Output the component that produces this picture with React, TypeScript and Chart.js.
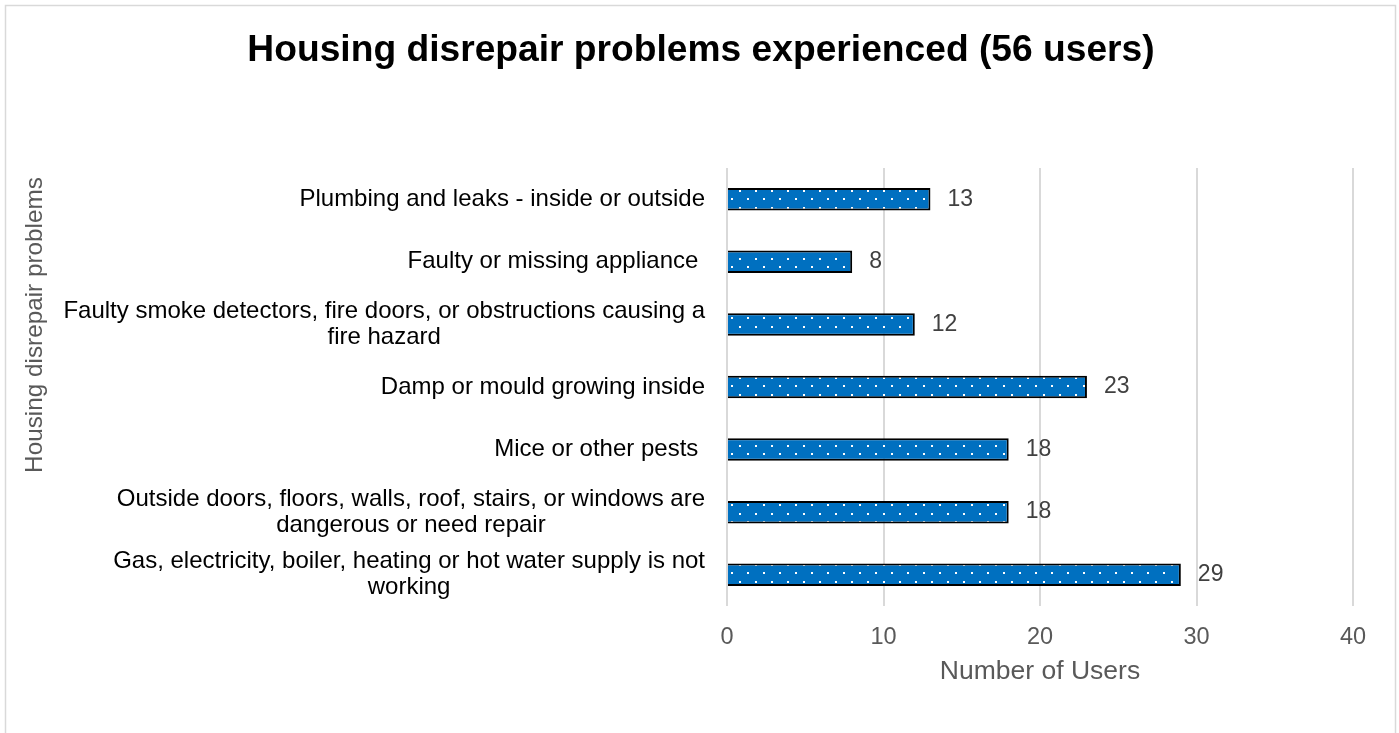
import React, { useEffect, useRef } from 'react';
import { Chart, registerables } from 'chart.js';

Chart.register(...registerables);

const categories: string[][] = [
  ['Plumbing and leaks - inside or outside'],
  ['Faulty or missing appliance '],
  ['Faulty smoke detectors, fire doors, or obstructions causing a', 'fire hazard'],
  ['Damp or mould growing inside'],
  ['Mice or other pests '],
  ['Outside doors, floors, walls, roof, stairs, or windows are', 'dangerous or need repair'],
  ['Gas, electricity, boiler, heating or hot water supply is not', 'working'],
];
const userCounts: number[] = [13, 8, 12, 23, 18, 18, 29];
const xTickValues: number[] = [0, 10, 20, 30, 40];
const chartTitle = 'Housing disrepair problems experienced (56 users)';
const xAxisTitle = 'Number of Users';
const yAxisTitle = 'Housing disrepair problems';

const FONT = '"Liberation Sans", Arial, sans-serif';

function makePattern(): CanvasPattern | string {
  const c = document.createElement('canvas');
  c.width = 16;
  c.height = 17;
  const g = c.getContext('2d');
  if (!g) return '#0070C0';
  g.fillStyle = '#0070C0';
  g.fillRect(0, 0, 16, 17);
  g.fillStyle = '#ffffff';
  g.fillRect(3, 3, 2, 2);
  g.fillRect(11, 11, 2, 2);
  const p = g.createPattern(c, 'repeat');
  return p || '#0070C0';
}

export default function App() {
  const canvasRef = useRef<HTMLCanvasElement | null>(null);

  useEffect(() => {
    const canvas = canvasRef.current;
    if (!canvas) return;

    const framePlugin = {
      id: 'frame',
      beforeDraw(chart: any) {
        const ctx = chart.ctx;
        ctx.save();
        ctx.fillStyle = '#ffffff';
        ctx.fillRect(0, 0, chart.width, chart.height);
        ctx.strokeStyle = '#d9d9d9';
        ctx.lineWidth = 1.5;
        ctx.strokeRect(5.5, 5.5, 1390, 780);
        ctx.restore();
      },
    };

    const textPlugin = {
      id: 'texts',
      afterDraw(chart: any) {
        const ctx = chart.ctx;
        const area = chart.chartArea;
        const yScale = chart.scales.y;
        ctx.save();
        // Title
        ctx.fillStyle = '#000000';
        ctx.font = `bold 37.2px ${FONT}`;
        ctx.textAlign = 'center';
        ctx.textBaseline = 'middle';
        ctx.fillText(chartTitle, 701, 51);

        // Y axis title
        ctx.save();
        ctx.translate(35, 325);
        ctx.rotate(-Math.PI / 2);
        ctx.fillStyle = '#595959';
        ctx.font = `24.3px ${FONT}`;
        ctx.fillText(yAxisTitle, 0, 0);
        ctx.restore();

        // Category labels: block right-aligned, lines centered within block
        ctx.fillStyle = '#000000';
        ctx.font = `24px ${FONT}`;
        ctx.textBaseline = 'middle';
        ctx.textAlign = 'center';
        const lineH = 26;
        const right = area.left - 22;
        categories.forEach((lines, i) => {
          const py = yScale.getPixelForTick(i);
          const w = Math.max(...lines.map((l) => ctx.measureText(l).width));
          const cx = right - w / 2;
          const startY = py - ((lines.length - 1) * lineH) / 2;
          lines.forEach((l, k) => {
            ctx.fillText(l, cx, startY + k * lineH);
          });
        });
        ctx.restore();
      },
      afterDatasetsDraw(chart: any) {
        const ctx = chart.ctx;
        const meta = chart.getDatasetMeta(0);
        ctx.save();
        ctx.fillStyle = '#404040';
        ctx.font = `23px ${FONT}`;
        ctx.textAlign = 'left';
        ctx.textBaseline = 'middle';
        meta.data.forEach((bar: any, i: number) => {
          ctx.fillText(String(userCounts[i]), bar.x + 17, bar.y);
        });
        ctx.restore();
      },
    };

    const chart = new Chart(canvas, {
      type: 'bar',
      data: {
        labels: categories,
        datasets: [
          {
            data: userCounts,
            backgroundColor: makePattern() as any,
            borderColor: '#000000',
            borderWidth: 2,
            categoryPercentage: 1,
            barPercentage: 0.36,
          },
        ],
      },
      options: {
        indexAxis: 'y',
        responsive: false,
        animation: false,
        devicePixelRatio: 1,
        layout: { padding: { left: 0, right: 46, top: 168, bottom: 0 } },
        plugins: {
          legend: { display: false },
          title: { display: false },
          tooltip: { enabled: false },
        },
        scales: {
          y: {
            type: 'category',
            ticks: { display: false },
            grid: { display: false },
            border: { display: false },
            afterFit(scale: any) {
              scale.width = 727;
            },
          },
          x: {
            type: 'linear',
            min: xTickValues[0],
            max: xTickValues[xTickValues.length - 1],
            afterBuildTicks(scale: any) {
              scale.ticks = xTickValues.map((v) => ({ value: v }));
            },
            ticks: {
              color: '#595959',
              font: { family: FONT, size: 23.5 },
              padding: 17,
            },
            grid: { color: '#d9d9d9', lineWidth: 2, drawTicks: false },
            border: { display: false },
            title: {
              display: true,
              text: xAxisTitle,
              color: '#595959',
              font: { family: FONT, size: 26.5 },
              padding: { top: 0, bottom: 45 },
            },
            afterFit(scale: any) {
              scale.height = 127;
            },
          },
        },
      },
      plugins: [framePlugin, textPlugin],
    });

    return () => {
      chart.destroy();
    };
  }, []);

  return (
    <div style={{ position: 'absolute', left: 0, top: 0, width: 1399, height: 733 }}>
      <canvas ref={canvasRef} width={1399} height={733} style={{ display: 'block', width: 1399, height: 733 }} />
    </div>
  );
}
